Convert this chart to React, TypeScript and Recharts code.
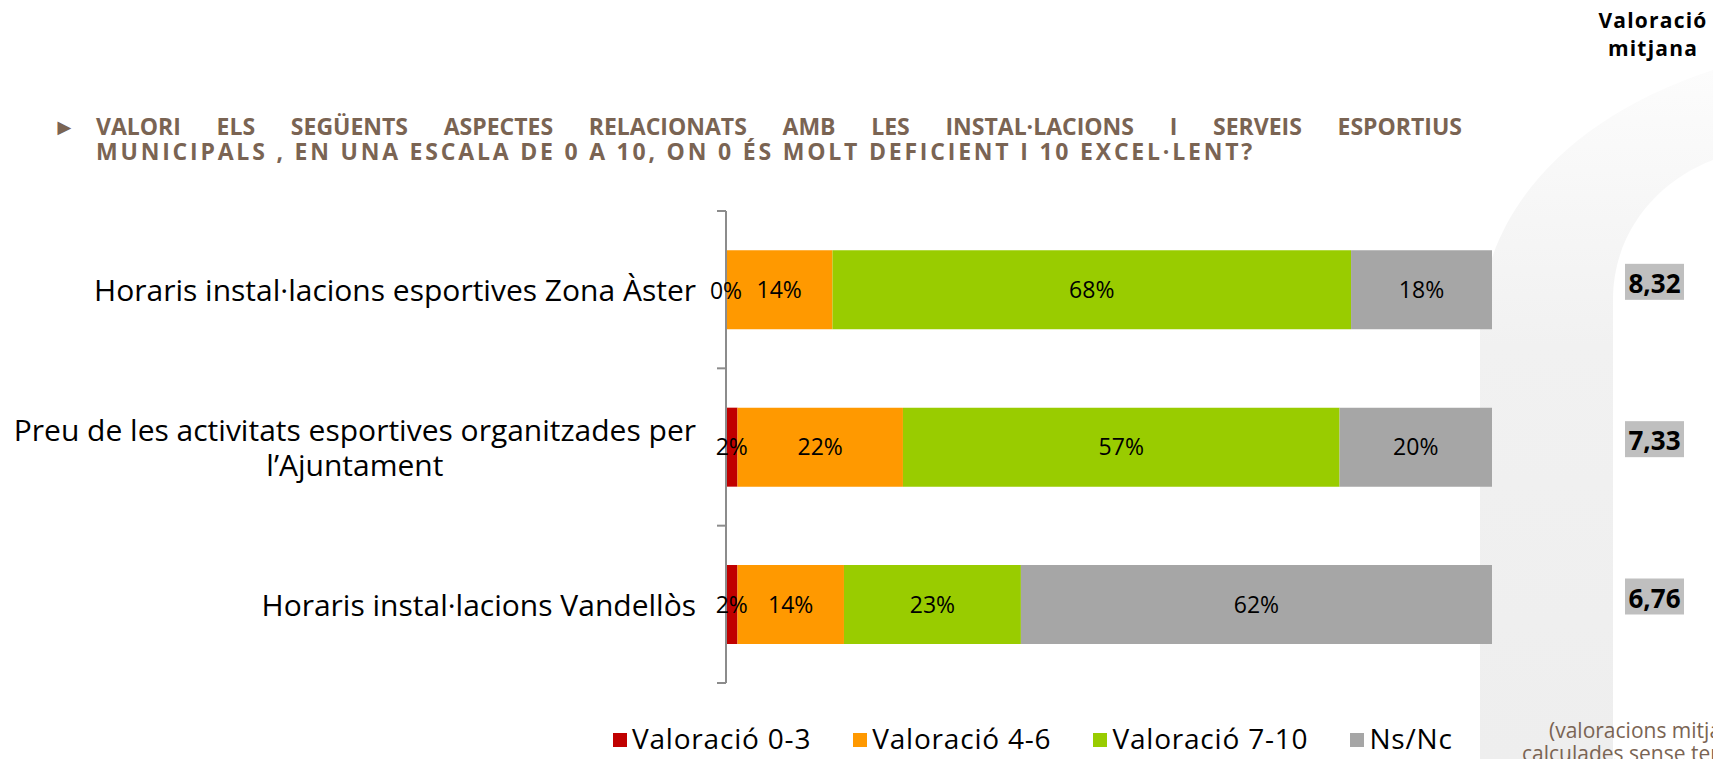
import React from 'react';
import { BarChart, Bar, XAxis, YAxis, LabelList } from 'recharts';

const categories = [
  'Horaris instal·lacions esportives Zona Àster',
  'Preu de les activitats esportives organitzades per\nl’Ajuntament',
  'Horaris instal·lacions Vandellòs',
];
const val03 = [0, 1.5, 1.5];
const val46 = [13.9, 21.6, 13.9];
const val710 = [67.7, 57.0, 23.1];
const nsnc = [18.4, 19.9, 61.5];
const means = ['8,32', '7,33', '6,76'];

const seriesKeys = ['v03', 'v46', 'v710', 'nsnc'];
const seriesNames = ['Valoració 0-3', 'Valoració 4-6', 'Valoració 7-10', 'Ns/Nc'];
const seriesColors = ['#C00000', '#FF9900', '#99CC00', '#A6A6A6'];

const data = categories.map((name, i) => ({
  name,
  v03: val03[i],
  v46: val46[i],
  v710: val710[i],
  nsnc: nsnc[i],
  mean: means[i],
}));

const W = 1713;
const H = 759;
const TOP = 211;
const BOTTOM = 76;
const AXIS_X = 726;
const RIGHT = 221;
const BAND = (H - TOP - BOTTOM) / categories.length;
const FONT = '"Open Sans", sans-serif';
const BROWN = '#7A6453';

let ctx: CanvasRenderingContext2D | null = null;
function textWidth(s: string, font: string) {
  if (!ctx) ctx = document.createElement('canvas').getContext('2d');
  if (!ctx) return s.length * 14;
  ctx.font = font;
  return ctx.measureText(s).width;
}

const pct = (v: any) => `${Math.round(Number(v))}%`;

const CategoryTick = (props: any) => {
  const { y, payload, index } = props;
  const lines = String(payload.value).split('\n');
  const right = AXIS_X - 30;
  const lh = 35;
  const widths = lines.map((l) => textWidth(l, `30px ${FONT}`));
  const maxW = Math.max(...widths);
  const half = BAND / 2;
  return (
    <g>
      <line x1={AXIS_X - 9} x2={AXIS_X} y1={y - half} y2={y - half} stroke="#8C8C8C" strokeWidth={2} />
      {index === categories.length - 1 && (
        <line x1={AXIS_X - 9} x2={AXIS_X} y1={y + half} y2={y + half} stroke="#8C8C8C" strokeWidth={2} />
      )}
      {lines.map((l, i) => (
        <text
          key={i}
          x={lines.length > 1 ? right - maxW / 2 : right}
          y={y + (i - (lines.length - 1) / 2) * lh}
          textAnchor={lines.length > 1 ? 'middle' : 'end'}
          dominantBaseline="central"
          fontFamily={FONT}
          fontSize={30}
          fill="#000"
        >
          {l}
        </text>
      ))}
    </g>
  );
};

// label for a zero-width first segment, drawn at the start of the next segment
const ZeroLabel = (props: any) => {
  const { x, y, height, value } = props;
  if (Number(value) !== 0) return null;
  return (
    <text x={x} y={y + height / 2} textAnchor="middle" dominantBaseline="central" fontFamily={FONT} fontSize={23} fill="#000">
      {pct(value)}
    </text>
  );
};

const MeanBox = (props: any) => {
  const { y, height, value } = props;
  const cy = y + height / 2 - 8;
  return (
    <g>
      <rect x={1625} y={cy - 18} width={59} height={36} fill="#BFBFBF" />
      <text x={1654.5} y={cy + 1} textAnchor="middle" dominantBaseline="central" fontFamily={FONT} fontWeight={700} fontSize={26} fill="#000">
        {value}
      </text>
    </g>
  );
};

export default function App() {
  return (
    <div style={{ position: 'absolute', left: 0, top: 0, width: W, height: H, overflow: 'hidden', background: '#fff', fontFamily: FONT }}>
      <svg width={W} height={H} style={{ position: 'absolute', left: 0, top: 0 }}>
        <defs>
          <linearGradient id="arch" x1="0" y1="0" x2="0" y2="1">
            <stop offset="0%" stopColor="#FCFCFC" />
            <stop offset="40%" stopColor="#F1F1F1" />
            <stop offset="100%" stopColor="#EEEEEE" />
          </linearGradient>
        </defs>
        <path
          d="M1480,759 L1480,330 C1480,220 1560,120 1713,70 L1713,160 C1660,180 1613,230 1613,300 L1613,759 Z"
          fill="url(#arch)"
        />
      </svg>

      <div style={{ position: 'absolute', left: 53, top: 114, color: BROWN, fontWeight: 700, fontSize: 23, lineHeight: '25px' }}>►</div>
      <div style={{ position: 'absolute', left: 96, top: 114, width: 1366, color: BROWN, fontWeight: 700, fontSize: 23, lineHeight: '25px', whiteSpace: 'nowrap' }}>
        <div style={{ textAlign: 'justify', textAlignLast: 'justify', whiteSpace: 'normal' }}>
          VALORI ELS SEGÜENTS ASPECTES RELACIONATS AMB LES INSTAL·LACIONS I SERVEIS ESPORTIUS
        </div>
        <div style={{ letterSpacing: 2.8 }}>MUNICIPALS , EN UNA ESCALA DE 0 A 10, ON 0 ÉS MOLT DEFICIENT I 10 EXCEL·LENT?</div>
      </div>

      <div style={{ position: 'absolute', left: 1553, width: 200, top: 6, textAlign: 'center', fontWeight: 700, fontSize: 21, letterSpacing: 1.2, lineHeight: '28px', color: '#000' }}>
        Valoració
        <br />
        mitjana
      </div>

      <div style={{ position: 'absolute', left: 0, top: 0 }}>
        <BarChart
          width={W}
          height={H}
          data={data}
          layout="vertical"
          margin={{ top: TOP, right: RIGHT, bottom: BOTTOM, left: 0 }}
          barCategoryGap="25%"
        >
          <XAxis type="number" domain={[0, 100]} hide />
          <YAxis
            type="category"
            dataKey="name"
            width={AXIS_X}
            axisLine={{ stroke: '#8C8C8C', strokeWidth: 2 }}
            tickLine={false}
            tick={<CategoryTick />}
            interval={0}
          />
          {seriesKeys.map((k, i) => (
            <Bar key={k} dataKey={k} name={seriesNames[i]} stackId="a" fill={seriesColors[i]} isAnimationActive={false}>
              <LabelList dataKey={k} position="center" formatter={pct} fill="#000" fontSize={23} fontFamily={FONT} />
              {k === 'v46' && <LabelList dataKey="v03" content={<ZeroLabel />} />}
              {k === 'nsnc' && <LabelList dataKey="mean" content={<MeanBox />} />}
            </Bar>
          ))}
        </BarChart>
      </div>

      <div style={{ position: 'absolute', left: 613, top: 724, display: 'flex', alignItems: 'center', fontSize: 28, letterSpacing: 0.8, lineHeight: '28px', color: '#000' }}>
        {seriesNames.map((n, i) => (
          <div key={n} style={{ display: 'flex', alignItems: 'center', marginRight: 42 }}>
            <span style={{ display: 'inline-block', width: 14, height: 14, background: seriesColors[i], marginRight: 5, marginTop: 4 }} />
            <span>{n}</span>
          </div>
        ))}
      </div>

      <div style={{ position: 'absolute', left: 1549, top: 719, fontSize: 21, lineHeight: '23px', color: BROWN, whiteSpace: 'nowrap' }}>
        (valoracions mitjanes
      </div>
      <div style={{ position: 'absolute', left: 1522, top: 742, fontSize: 21, lineHeight: '23px', color: BROWN, whiteSpace: 'nowrap' }}>
        calculades sense tenir en compte els Ns/Nc)
      </div>
    </div>
  );
}
